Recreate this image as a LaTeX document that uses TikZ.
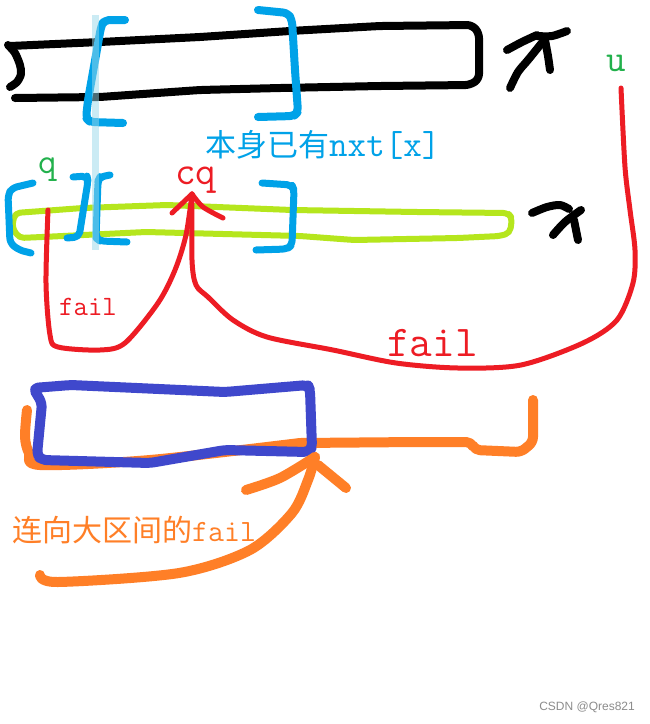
\documentclass[tikz,border=0pt]{standalone}
\usepackage{fontspec}
\setsansfont{Liberation Sans}
\newfontfamily\cjk{Noto Sans CJK SC}
\definecolor{inkblack}{HTML}{000000}
\definecolor{inkcyan}{HTML}{00A2E8}
\definecolor{inklime}{HTML}{B5E61D}
\definecolor{inkred}{HTML}{ED1C24}
\definecolor{inkindigo}{HTML}{3F48CC}
\definecolor{inkorange}{HTML}{FF7F27}
\definecolor{inkgreen}{HTML}{22B14C}
\definecolor{inkpale}{HTML}{99D9EA}
\newcommand{\px}[1]{\fontsize{#1}{#1}\selectfont}

\begin{document}
\begin{tikzpicture}[x=1pt,y=-1pt,
    pen/.style={line width=#1,line cap=round,line join=round},
    rough/.style={rounded corners=5pt},
    lbl/.style={inner sep=0pt,anchor=west}]
  \useasboundingbox[fill=white] (0,0) rectangle (650,724);

  % the big interval (black)
  \draw[pen=8pt,inkblack,rough] (10,46) -- (100,42) -- (200,37) -- (290,31) -- (380,26) -- (472,25)
    -- (479,33) -- (479,79) -- (470,85) -- (380,86) -- (280,88) -- (200,90) -- (100,97) -- (15,98);
  \draw[pen=8pt,inkblack] plot[smooth] coordinates {(8,45) (15,53) (20,65) (21,74) (17,82) (10,87)};
  \draw[pen=8pt,inkblack] plot[smooth] coordinates {(507,50) (522,42) (537,35)};
  \draw[pen=8pt,inkblack] plot[smooth] coordinates {(537,36) (552,36) (567,31)};
  \draw[pen=8pt,inkblack] plot[smooth] coordinates {(510,88) (518,72) (528,60) (545,39)};
  \draw[pen=8pt,inkblack] plot[smooth] coordinates {(545,40) (548,56) (550,70)};

  % the small interval (lime)
  \draw[pen=6pt,inklime,rough] (15,213) -- (83,208) -- (167,205) -- (217,207) -- (292,210) -- (417,212)
    -- (508,213) -- (512,218) -- (510,233) -- (500,236) -- (458,238) -- (354,240) -- (300,236)
    -- (146,232) -- (42,237) -- (19,238) -- (12,227) -- cycle;
  \draw[pen=8pt,inkblack] plot[smooth] coordinates {(532,213) (547,207) (560,205) (569,209)};
  \draw[pen=8pt,inkblack] plot[smooth] coordinates {(553,235) (565,222) (581,210)};
  \draw[pen=8pt,inkblack] (574,220) -- (578,240);

  % brackets (cyan)
  \draw[pen=8pt,inkcyan,rough] (125,20) -- (104,20) -- (101,27) -- (88,100) -- (86,118) -- (90,122) -- (123,123);
  \draw[pen=8pt,inkcyan,rough] (258,10) -- (288,13) -- (292,20) -- (295,70) -- (298,112) -- (294,116) -- (258,117);
  \draw[pen=7pt,inkcyan,rough] (33,183) -- (12,188) -- (8,195) -- (10,243) -- (19,250) -- (31,253);
  \draw[pen=7pt,inkcyan,rough] (73,177) -- (87,176) -- (88,181) -- (79,237) -- (67,238);
  \draw[pen=7pt,inkcyan,rough] (110,175) -- (100,177) -- (98,181) -- (96,238) -- (100,241) -- (127,242);
  \draw[pen=7pt,inkcyan,rough] (262,183) -- (292,185) -- (294,190) -- (292,245) -- (287,249) -- (256,250);
  \draw[line width=7pt,inkpale,opacity=0.5] (95,15) -- (95,250);

  % fail links (red)
  \coordinate (qfoot) at (48,210);
  \coordinate (cqtip) at (192,194);
  \coordinate (ufoot) at (621,88);
  \draw[pen=5pt,inkred] plot[smooth] coordinates {(qfoot) (46,283) (50,335) (58,347) (100,350)
    (125,343) (158,303) (175,270) (186,235) (cqtip)};
  \draw[pen=5pt,inkred] plot[smooth] coordinates {(ufoot) (625,167) (630,210) (635,250) (633,283)
    (617,320) (583,343) (521,365) (458,368) (396,363) (333,350) (267,337) (233,320) (208,297)
    (196,285) (192,260) (cqtip)};
  \draw[pen=5pt,inkred] (cqtip) -- (172,213);
  \draw[pen=5pt,inkred] plot[smooth] coordinates {(cqtip) (203,207) (223,218)};

  % jump to the larger interval (orange, indigo)
  \draw[pen=10pt,inkorange] plot[smooth] coordinates {(27,410) (25,437) (29,453) (40,465) (150,460)
    (300,443)};
  \draw[pen=10pt,inkorange,rough] (300,443) -- (417,442) -- (471,442) -- (475,450) -- (521,452)
    -- (533,442) -- (533,400);
  \draw[pen=10pt,inkindigo,rough] (33,388) -- (71,385) -- (225,392) -- (308,385) -- (310,390)
    -- (312,448) -- (308,452) -- (225,450) -- (150,463) -- (42,460) -- (37,455) -- (42,403) -- cycle;
  \coordinate (tail) at (40,575);
  \coordinate (bigtip) at (315,457);
  \draw[pen=10pt,inkorange] plot[smooth] coordinates {(tail) (58,582) (179,573) (250,550)
    (292,513) (308,480) (bigtip)};
  \draw[pen=10pt,inkorange] plot[smooth] coordinates {(246,490) (280,478) (bigtip)};
  \draw[pen=10pt,inkorange] (318,465) -- (346,488);

  % labels
  \node[lbl,text=inkcyan,font=\px{31}] (hasnxt) at (205,145) {\cjk 本身已有\ttfamily\px{36}nxt[x]};
  \node[lbl,text=inkgreen,font=\ttfamily\px{36}] (qname) at (38,170) {q};
  \node[lbl,text=inkred,font=\ttfamily\px{40}] (cqname) at (175,180) {cq};
  \node[lbl,text=inkgreen,font=\ttfamily\px{38}] (uname) at (606,63) {u};
  \node[lbl,text=inkred,font=\ttfamily\px{28}] (failq) at (59,307) {fail};
  \node[lbl,text=inkred,font=\ttfamily\px{44}] (failu) at (387,343) {fail};
  \node[lbl,text=inkorange,font=\px{30}] (bigfail) at (12,530) {\cjk 连向大区间的\ttfamily\px{31}fail};
  \node[anchor=east,inner sep=0pt,text=black!45,font=\sffamily\px{12}] (mark) at (635,707) {CSDN @Qres821};
\end{tikzpicture}
\end{document}
